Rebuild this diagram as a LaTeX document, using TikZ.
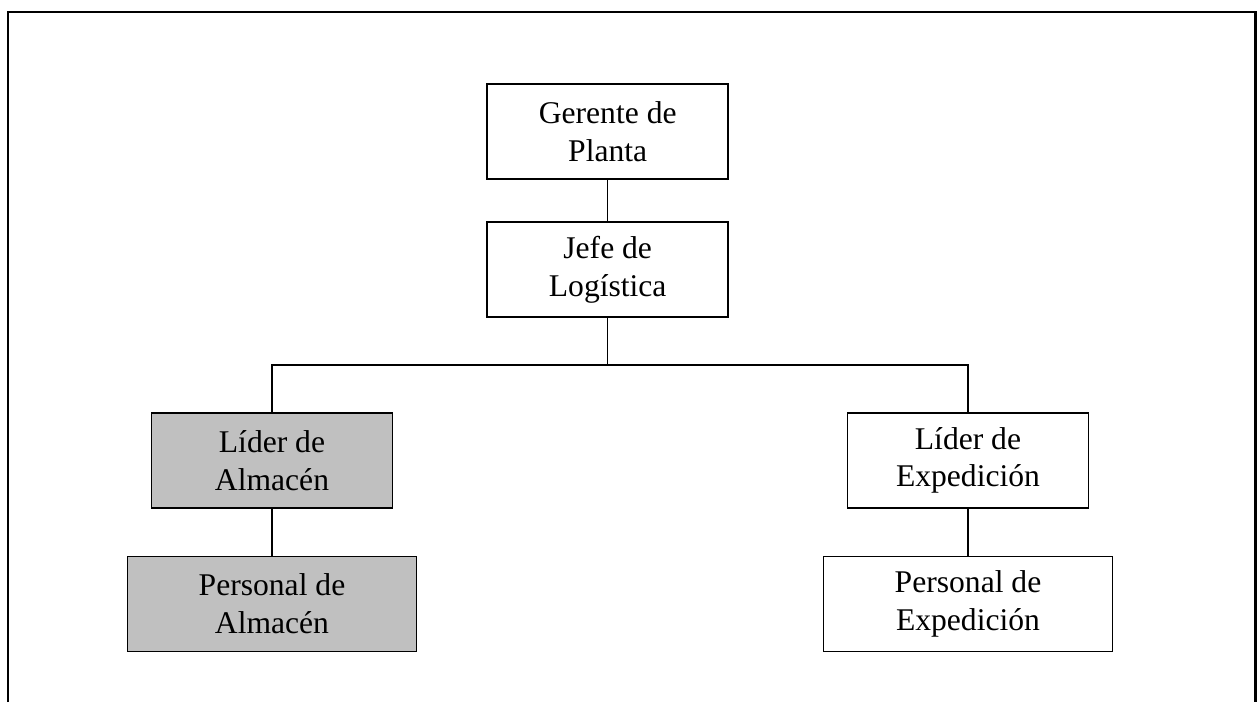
\documentclass[tikz,border=0pt]{standalone}
\usepackage{fontspec}
\setmainfont{Liberation Serif}
\definecolor{boxgray}{RGB}{192,192,192}
\tikzset{
	post/.style={draw, line width=0.8pt, minimum width=120.5pt, minimum height=47.5pt, inner sep=0pt, align=center, font=\fontsize{15.8}{18.8}\selectfont},
	widepost/.style={post, minimum width=144.5pt},
	shaded/.style={fill=boxgray},
	link/.style={line width=0.65pt}
}
\begin{document}
\begin{tikzpicture}[x=0.5pt,y=-0.5pt]
\useasboundingbox (0,0) rectangle (1258,702);
\draw[line width=1.3pt] (8,702) -- (8,12) -- (1255.5,12) -- (1255.5,702);

\node[post] (gerente) at (607.7,131.7) {Gerente de\\Planta};
\node[post] (jefe) at (607.7,269.5) {Jefe de\\Logística};
\node[post,shaded] (liderA) at (272,460.5) {Líder de\\Almacén};
\node[widepost,shaded] (personalA) at (272,603.8) {Personal de\\Almacén};
\node[post] (liderE) at (968,460.5) {Líder de\\Expedición};
\node[widepost] (personalE) at (968,604) {Personal de\\Expedición};
\coordinate (bus) at (607.7,365);

\draw[link] (gerente) -- (jefe);
\draw[link] (jefe) -- (bus);
\draw[link] (liderA.north) |- (bus) -| (liderE.north);
\draw[link] (liderA) -- (personalA);
\draw[link] (liderE) -- (personalE);
\end{tikzpicture}
\end{document}
